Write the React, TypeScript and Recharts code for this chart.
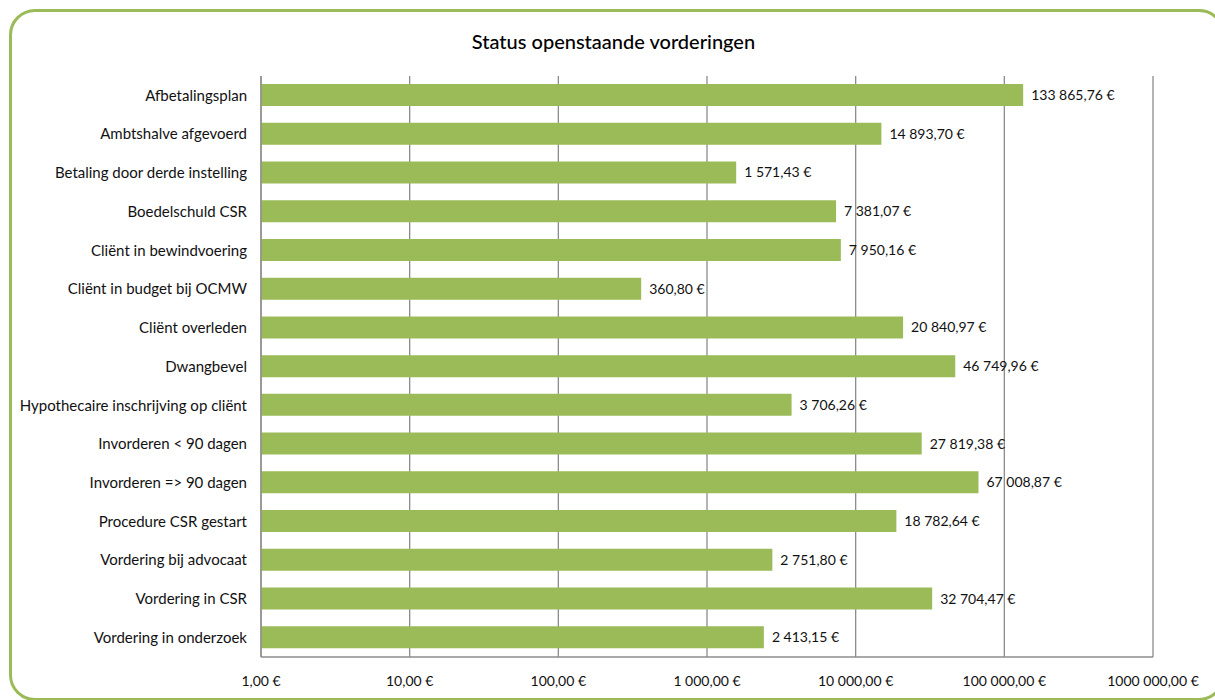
import { Bar, BarChart, CartesianGrid, LabelList, XAxis, YAxis } from 'recharts';

const categories = [
  'Afbetalingsplan',
  'Ambtshalve afgevoerd',
  'Betaling door derde instelling',
  'Boedelschuld CSR',
  'Cliënt in bewindvoering',
  'Cliënt in budget bij OCMW',
  'Cliënt overleden',
  'Dwangbevel',
  'Hypothecaire inschrijving op cliënt',
  'Invorderen < 90 dagen',
  'Invorderen => 90 dagen',
  'Procedure CSR gestart',
  'Vordering bij advocaat',
  'Vordering in CSR',
  'Vordering in onderzoek',
];

const amounts = [
  133865.76, 14893.7, 1571.43, 7381.07, 7950.16, 360.8, 20840.97, 46749.96, 3706.26, 27819.38,
  67008.87, 18782.64, 2751.8, 32704.47, 2413.15,
];

const tickValues = [1, 10, 100, 1000, 10000, 100000, 1000000];
const tickLabels = ['1,00 €', '10,00 €', '100,00 €', '1 000,00 €', '10 000,00 €', '100 000,00 €', '1000 000,00 €'];

const data = categories.map((name, i) => ({ name, value: amounts[i] }));

const FONT = 'Lato, "Open Sans", sans-serif';
const GREEN = '#9bbb59';

function euro(v: number) {
  const [int, dec] = v.toFixed(2).split('.');
  const grouped = int.replace(/\B(?=(\d{3})+(?!\d))/g, ' ');
  return `${grouped},${dec} €`;
}

export default function App() {
  return (
    <div style={{ position: 'absolute', left: 0, top: 0, width: 1215, height: 700, background: '#fff', overflow: 'hidden', fontFamily: FONT }}>
      <div
        style={{
          position: 'absolute',
          left: 9,
          top: 9,
          width: 1210,
          height: 686,
          border: `3px solid ${GREEN}`,
          borderRadius: 26,
        }}
      />
      <div
        style={{
          position: 'absolute',
          left: 0,
          top: 29,
          width: 1227,
          textAlign: 'center',
          fontSize: 20,
          fontWeight: 500,
          color: '#000',
        }}
      >
        Status openstaande vorderingen
      </div>
      <div style={{ position: 'absolute', left: 0, top: 0 }}>
        <BarChart
          width={1215}
          height={700}
          data={data}
          layout="vertical"
          margin={{ top: 76, right: 62, bottom: 0, left: 0 }}
        >
          <CartesianGrid horizontal={false} stroke="#8c8c8c" strokeWidth={1.3} />
          <XAxis
            type="number"
            scale="log"
            domain={[1, 1000000]}
            ticks={tickValues}
            allowDataOverflow
            tickFormatter={(v: number) => tickLabels[tickValues.indexOf(v)] ?? ''}
            height={43}
            tickLine={false}
            tickSize={0}
            tickMargin={19}
            axisLine={{ stroke: '#8c8c8c', strokeWidth: 1.3 }}
            tick={{ fill: '#111', fontSize: 14, fontFamily: FONT }}
            interval={0}
          />
          <YAxis
            type="category"
            dataKey="name"
            width={261}
            tickLine={false}
            tickSize={0}
            tickMargin={14}
            axisLine={{ stroke: '#8c8c8c', strokeWidth: 1.3 }}
            tick={{ fill: '#111', fontSize: 15, fontFamily: FONT }}
            interval={0}
          />
          <Bar dataKey="value" fill={GREEN} barSize={22} isAnimationActive={false}>
            <LabelList
              dataKey="value"
              position="right"
              offset={8}
              formatter={(v: any) => euro(Number(v))}
              style={{ fill: '#111', fontSize: 14, fontFamily: FONT }}
            />
          </Bar>
        </BarChart>
      </div>
    </div>
  );
}
